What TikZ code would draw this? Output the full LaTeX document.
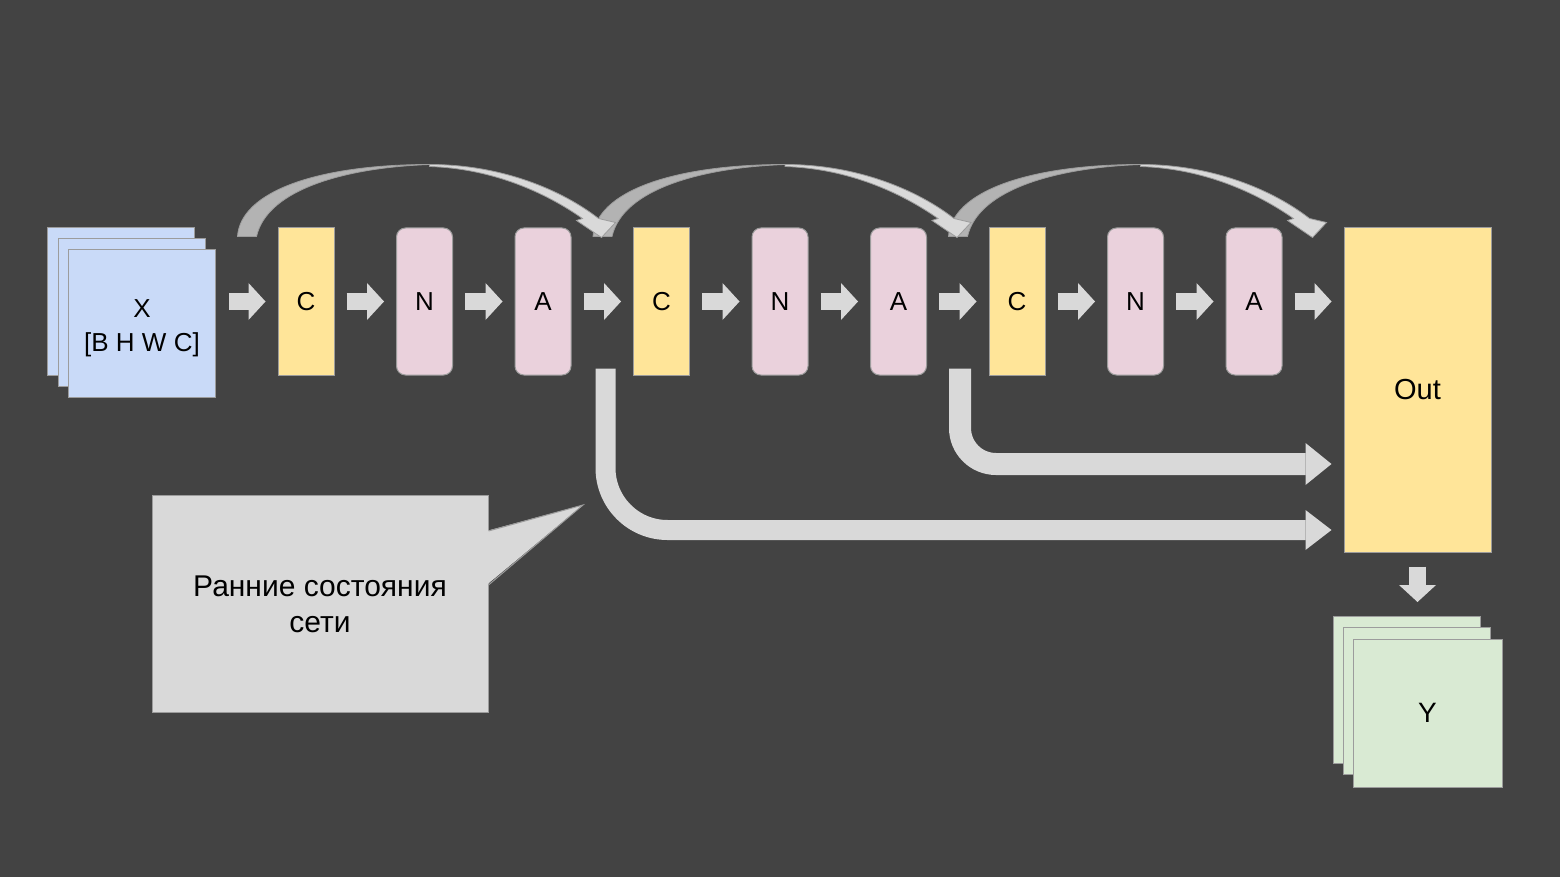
\documentclass[tikz,border=0pt]{standalone}
\usepackage{fontspec}
\setmainfont{Liberation Sans}
\usetikzlibrary{arrows.meta,calc}
\definecolor{bg}{HTML}{434343}
\definecolor{cyel}{HTML}{FFE599}
\definecolor{cpink}{HTML}{EAD1DC}
\definecolor{cblue}{HTML}{C9DAF8}
\definecolor{cgreen}{HTML}{D9EAD3}
\definecolor{clight}{HTML}{D9D9D9}
\definecolor{cdark}{HTML}{B3B3B3}
\definecolor{cedge}{HTML}{9C9C9C}
\tikzset{
  cdarkpic/.pic={\filldraw[fill=cdark, draw=cedge, line width=0.8pt]
     (0,0) .. controls (3,-45) and (80,-72) .. (192,-72)
     .. controls (110,-69) and (30,-48) .. (19,0) -- cycle;},
  clightpic/.pic={\filldraw[fill=clight, draw=cedge, line width=0.8pt]
     (192,-72) .. controls (265,-72) and (325,-46) .. (361,-18)
     -- (378,-14) -- (364,1) -- (339,-16) -- (345,-18)
     .. controls (308,-44) and (255,-68) .. (192,-70) -- cycle;}
}
\begin{document}
\begin{tikzpicture}[x=1pt,y=-1pt,
  lbl/.style={font=\fontsize{26}{34}\selectfont, text=black},
  convbox/.style={lbl, rectangle, fill=cyel, draw=cedge, line width=1pt,
     minimum width=56pt, minimum height=147pt, inner sep=0pt},
  pinkbox/.style={convbox, fill=cpink, rounded corners=9pt},
  sheet/.style={lbl, rectangle, draw=cedge, line width=1pt, align=center,
     minimum width=147pt, minimum height=147pt, inner sep=0pt},
  barrow/.style={draw=clight, line width=17pt,
     -{Triangle[length=17pt,width=37pt,line width=0pt]}},
  larrowbig/.style={draw=clight, line width=20pt, rounded corners=62pt,
     -{Triangle[length=26pt,width=40pt,line width=0pt]}},
  larrowsmall/.style={draw=clight, line width=22pt, rounded corners=36pt,
     -{Triangle[length=26pt,width=42pt,line width=0pt]}}
]
\fill[bg] (0,0) rectangle (1560,877);
\useasboundingbox (0,0) rectangle (1560,877);

% input stack
\node[sheet, fill=cblue] (Xb) at (121,301.5) {};
\node[sheet, fill=cblue] (Xm) at (132,312.5) {};
\node[sheet, fill=cblue] (X)  at (142,323.5) {};
\node[lbl, align=center, font=\fontsize{26}{34}\selectfont] (Xt) at (142,328) {X\\{}[B H W C]};

% blocks
\node[convbox] (C1) at (306,301.5)   {C};
\node[pinkbox] (N1) at (424.5,301.5) {N};
\node[pinkbox] (A1) at (543,301.5)   {A};
\node[convbox] (C2) at (661.5,301.5) {C};
\node[pinkbox] (N2) at (780,301.5)   {N};
\node[pinkbox] (A2) at (898.5,301.5) {A};
\node[convbox] (C3) at (1017,301.5)  {C};
\node[pinkbox] (N3) at (1135.5,301.5){N};
\node[pinkbox] (A3) at (1254,301.5)  {A};

\node[convbox, minimum width=147pt, minimum height=324pt,
      font=\fontsize{29}{34}\selectfont] (Out) at (1417.5,390) {Out};

% output stack
\node[sheet, fill=cgreen] (Yb) at (1407,690) {};
\node[sheet, fill=cgreen] (Ym) at (1417,701) {};
\node[sheet, fill=cgreen, minimum width=149pt, minimum height=148pt,
      font=\fontsize{28}{34}\selectfont] (Y) at (1427.5,713) {Y};

% straight block arrows
\draw[barrow] ([xshift=13]X.east |- C1.west) -- ([xshift=-12]C1.west);
\foreach \a/\b in {C1/N1,N1/A1,A1/C2,C2/N2,N2/A2,A2/C3,C3/N3,N3/A3,A3/Out}
  \draw[barrow] ([xshift=12]\a.east |- C1.west) -- ([xshift=-12]\b.west |- C1.west);
\draw[barrow] ([shift={(0,14)}]Out.south) -- ($(Out.south |- Yb.north)+(0,-14)$);

% curved skip arrows
\pic at ($(C1.north west)+(-40,9)$) {cdarkpic};
\pic at ($(C2.north west)+(-40,9)$) {cdarkpic};
\pic at ($(C3.north west)+(-40,9)$) {cdarkpic};
\pic at ($(C1.north west)+(-40,9)$) {clightpic};
\pic at ($(C2.north west)+(-40,9)$) {clightpic};
\pic at ($(C3.north west)+(-40,9)$) {clightpic};

% early state arrows
\coordinate (s1) at ([shift={(34,-7)}]A1.south east);
\coordinate (s2) at ([shift={(33,-7)}]A2.south east);
\coordinate (e1) at ([shift={(-12,140)}]Out.west);
\coordinate (e2) at ([shift={(-12,74)}]Out.west);
\draw[larrowbig] (s1) |- (e1);
\draw[larrowsmall] (s2) |- (e2);

% callout
\node[rectangle, fill=clight, draw=cedge, line width=1pt, inner sep=0pt,
      minimum width=336pt, minimum height=217pt] (note) at (320,603.5) {};
\coordinate (tipc) at (583,505);
\fill[clight] ([shift={(-2,-72.5)}]note.east) -- (tipc) -- ([shift={(-2,-18.5)}]note.east) -- cycle;
\draw[cedge, line width=1pt] ([shift={(0,-72.5)}]note.east) -- (tipc) -- ([shift={(0,-18.5)}]note.east);
\node[lbl, align=center, font=\fontsize{30}{36}\selectfont] (notetext) at ([yshift=-1]note.center) {Ранние состояния\\сети};
\end{tikzpicture}
\end{document}
